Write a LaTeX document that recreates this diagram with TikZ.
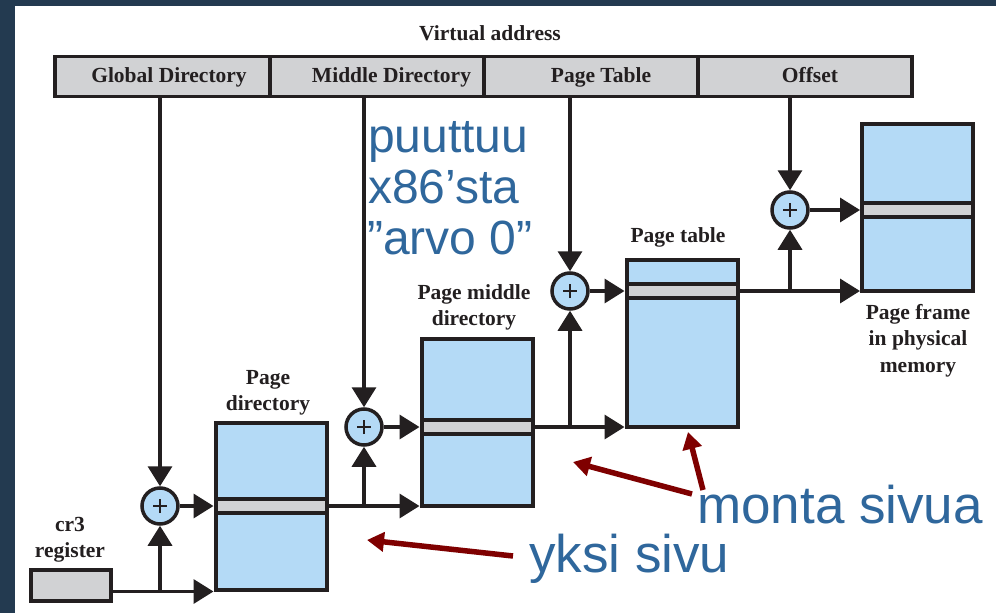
\documentclass[tikz,border=0pt]{standalone}
\usepackage{fontspec}
\setmainfont{Liberation Serif}
\newfontfamily\annotfont{Liberation Sans}
\usetikzlibrary{arrows.meta}

\definecolor{slidebg}{HTML}{233A50}
\definecolor{ink}{HTML}{231F20}
\definecolor{boxblue}{HTML}{B4DAF6}
\definecolor{fieldgray}{HTML}{D1D2D4}
\definecolor{annotblue}{HTML}{2F679C}
\definecolor{pointred}{HTML}{7F0000}

\newcommand{\lblfont}{\bfseries\fontsize{21.5}{26.5}\selectfont}

\tikzset{
  field/.style={draw=ink, fill=fieldgray, line width=3.5pt, minimum height=40pt, inner sep=0pt},
  fieldtext/.style={font=\lblfont, text=ink, inner sep=0pt, anchor=base},
  lbl/.style={font=\lblfont, text=ink, align=center, inner sep=0pt},
  tablebox/.style={draw=ink, fill=boxblue, line width=4pt, minimum width=111pt, minimum height=167pt, inner sep=0pt},
  entry/.style={draw=ink, fill=fieldgray, line width=4pt, minimum width=111pt, minimum height=14pt, inner sep=0pt},
  adder/.style={circle, draw=ink, fill=boxblue, line width=3.5pt, minimum size=36pt, inner sep=0pt,
    path picture={\draw[ink, line width=2pt]
      ([xshift=-7pt]path picture bounding box.center) -- ([xshift=7pt]path picture bounding box.center)
      ([yshift=-7pt]path picture bounding box.center) -- ([yshift=7pt]path picture bounding box.center);}},
  reg/.style={draw=ink, fill=fieldgray, line width=4pt, minimum width=80pt, minimum height=31pt, inner sep=0pt},
  arr/.style={draw=ink, line width=3.5pt, -{Triangle[length=20pt, width=24pt]}},
  annot/.style={font=\annotfont\fontsize{48}{50}\selectfont, text=annotblue, inner sep=0pt},
  bigannot/.style={font=\annotfont\fontsize{53}{55}\selectfont, text=annotblue, inner sep=0pt},
  pointer/.style={draw=pointred, line width=5.5pt, -{Triangle[length=17pt, width=19pt]}}
}

\begin{document}
\begin{tikzpicture}[x=1pt, y=-1pt]
  % slide backdrop and white page
  \useasboundingbox (0,0) rectangle (996,613);
  \fill[slidebg] (0,0) rectangle (996,613);
  \fill[white] (15,6) rectangle (996,613);

  % virtual address fields
  \node[lbl] (va) at (490,33) {Virtual address};
  \node[field, minimum width=215pt] (gd) at (162.5,76.5) {};
  \node[field, minimum width=214pt] (md) at (377,76.5) {};
  \node[field, minimum width=214pt] (pt) at (591,76.5) {};
  \node[field, minimum width=214pt] (off) at (805,76.5) {};
  \node[fieldtext] (gdt) at (169,82) {Global Directory};
  \node[fieldtext] (mdt) at (391.5,82) {Middle Directory};
  \node[fieldtext] (ptt) at (601,82) {Page Table};
  \node[fieldtext] (offt) at (810,82) {Offset};

  % tables and their selected entries
  \node[tablebox] (pd) at (271,506) {};
  \node[entry] (pdb) at (271,506) {};
  \node[tablebox] (pmd) at (477,422) {};
  \node[entry] (pmdb) at (477,427) {};
  \node[tablebox] (ptab) at (682,343) {};
  \node[entry] (ptabb) at (682,291) {};
  \node[tablebox] (pf) at (917.5,207) {};
  \node[entry] (pfb) at (917.5,210) {};

  \node[lbl] (pdl) at (268,393) {Page\\directory};
  \node[lbl] (pmdl) at (474,307.5) {Page middle\\directory};
  \node[lbl] (ptabl) at (678,237) {Page table};
  \node[lbl] (pfl) at (918,340.5) {Page frame\\in physical\\memory};

  % cr3 register
  \node[reg] (cr3) at (71,585.5) {};
  \node[lbl] (cr3l) at (70,539.5) {cr3\\register};

  % adders
  \node[adder] (a1) at (160,506) {};
  \node[adder] (a2) at (364,427) {};
  \node[adder] (a3) at (570,291) {};
  \node[adder] (a4) at (790,210) {};

  % level 1
  \draw[arr] (a1 |- gd.south) -- (a1.north);
  \draw[arr] (cr3.east |- pd.south west) -- (pd.south west);
  \draw[arr] (a1 |- pd.south west) -- (a1.south);
  \draw[arr] (a1.east) -- (pdb.west);
  % level 2
  \draw[arr] (pdb.east) -- (pdb.east -| pmd.west);
  \draw[arr] (a2 |- pdb.east) -- (a2.south);
  \draw[arr] (a2 |- md.south) -- (a2.north);
  \draw[arr] (a2.east) -- (pmdb.west);
  % level 3
  \draw[arr] (pmdb.east) -- (pmdb.east -| ptab.west);
  \draw[arr] (a3 |- pmdb.east) -- (a3.south);
  \draw[arr] (a3 |- pt.south) -- (a3.north);
  \draw[arr] (a3.east) -- (ptabb.west);
  % offset into the frame
  \draw[arr] (ptabb.east) -- (ptabb.east -| pf.west);
  \draw[arr] (a4 |- ptabb.east) -- (a4.south);
  \draw[arr] (a4 |- off.south) -- (a4.north);
  \draw[arr] (a4.east) -- (pfb.west);

  % annotations
  \node[annot, anchor=base west] (n1) at (368,152) {puuttuu};
  \node[annot, anchor=base west] (n2) at (368,203) {x86’sta};
  \node[annot, anchor=base west] (n3) at (367,254) {”arvo 0”};
  \node[bigannot, anchor=base west] (many) at (697,523) {monta sivua};
  \node[bigannot, anchor=base west] (one) at (529,572) {yksi sivu};

  \coordinate (manyA) at (692,494);
  \coordinate (manyB) at (703,490);
  \coordinate (oneA) at (513,556);
  \coordinate (tgtA) at (573,462);
  \coordinate (tgtB) at (688,432);
  \coordinate (tgtC) at (367,540);
  \draw[pointer] (manyA) -- (tgtA);
  \draw[pointer] (manyB) -- (tgtB);
  \draw[pointer] (oneA) -- (tgtC);
\end{tikzpicture}
\end{document}
